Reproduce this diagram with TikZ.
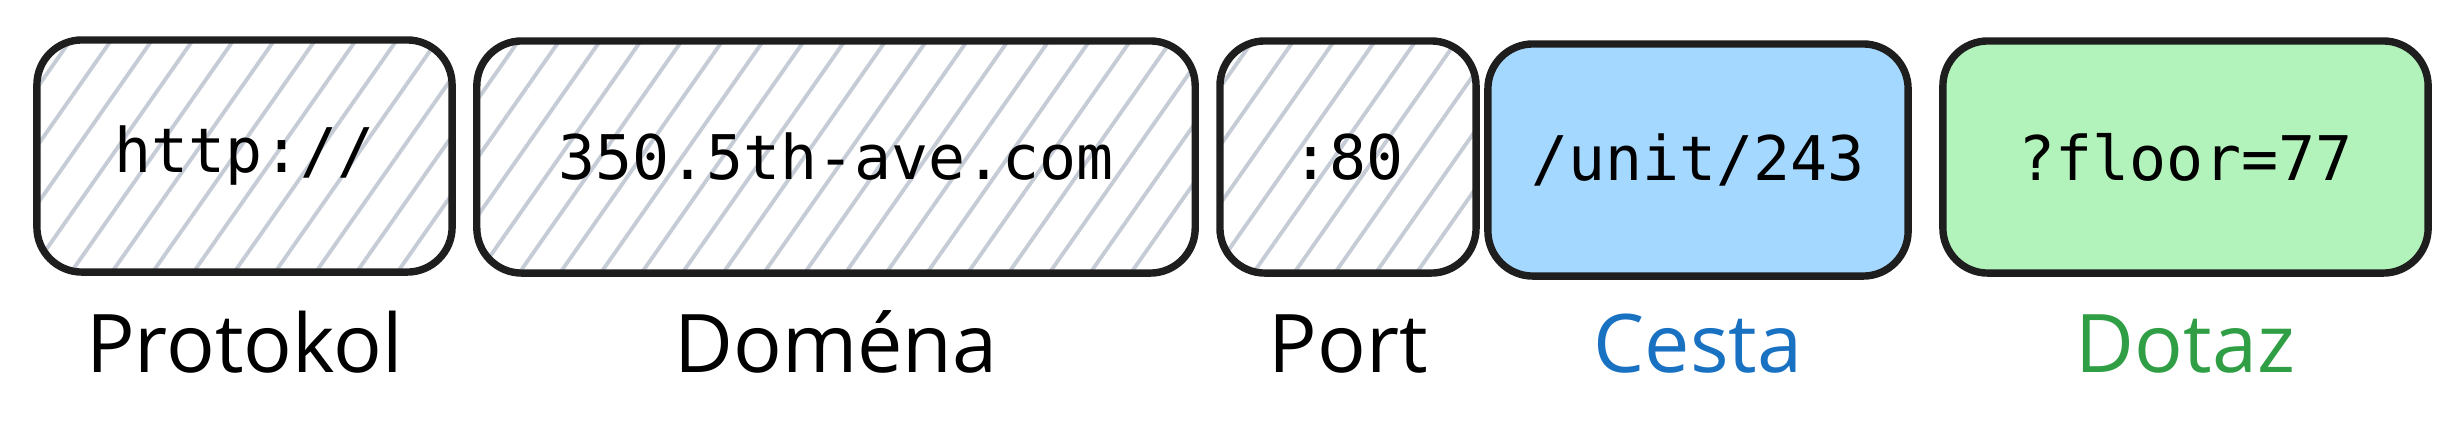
\documentclass[tikz,border=0pt]{standalone}
\usepackage{fontspec}
\setmonofont{DejaVu Sans Mono}
\newfontfamily\handfont{Open Sans}
\usetikzlibrary{patterns.meta}
\definecolor{inkblack}{HTML}{1E1E1E}
\definecolor{hatchgray}{HTML}{C5CCD6}
\definecolor{pathfill}{HTML}{A5D8FF}
\definecolor{queryfill}{HTML}{B2F2BB}
\definecolor{pathink}{HTML}{1971C2}
\definecolor{queryink}{HTML}{2F9E44}
\tikzset{
  part/.style={draw=inkblack, line width=2.1pt, rounded corners=0.45cm,
    minimum height=2.32cm, inner sep=0pt,
    font=\fontsize{17.5}{20}\selectfont\ttfamily},
  hatched/.style={pattern={Lines[angle=55, distance=9.5pt, line width=1.1pt]},
    pattern color=hatchgray},
  tag/.style={anchor=base, font=\fontsize{23}{27}\selectfont\handfont}
}

\begin{document}
\begin{tikzpicture}[x=0.01cm, y=-0.01cm]
			%%%%% START %%%%%
			\useasboundingbox (0,0) rectangle (2464,432);
			
			% the five parts of the address
			\node[part, hatched, minimum width=4.15cm] (proto) at (244.5,156) {http://};
			\node[part, hatched, minimum width=7.18cm] (domain) at (836,157) {350.5th-ave.com};
			\node[part, hatched, minimum width=2.56cm] (port) at (1348,157) {:80};
			\node[part, fill=pathfill, minimum width=4.20cm] (path) at (1698,160) {/unit/243};
			\node[part, fill=queryfill, minimum width=4.85cm] (query) at (2185.5,157) {?floor=77};
			
			% names under them
			\node[tag] (protoTag) at (proto.center |- 0,372) {Protokol};
			\node[tag] (domainTag) at (domain.center |- 0,372) {Doména};
			\node[tag] (portTag) at (port.center |- 0,372) {Port};
			\node[tag, text=pathink] (pathTag) at (path.center |- 0,372) {Cesta};
			\node[tag, text=queryink] (queryTag) at (query.center |- 0,372) {Dotaz};
			
			%%%%% END %%%%%
		\end{tikzpicture}
\end{document}
